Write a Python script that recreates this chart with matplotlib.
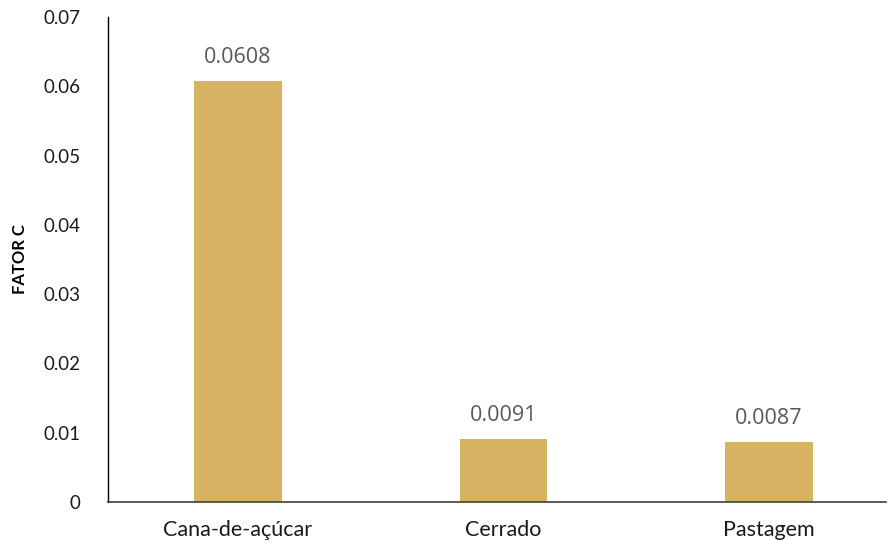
import matplotlib
matplotlib.use("Agg")
import matplotlib.pyplot as plt

categories = ["Cana-de-açúcar", "Cerrado", "Pastagem"]
values = [0.0608, 0.0091, 0.0087]
value_labels = ["0.0608", "0.0091", "0.0087"]
yticks = [0, 0.01, 0.02, 0.03, 0.04, 0.05, 0.06, 0.07]
ytick_labels = ["0", "0.01", "0.02", "0.03", "0.04", "0.05", "0.06", "0.07"]

plt.rcParams['font.family'] = ['Lato', 'DejaVu Sans']

fig = plt.figure(figsize=(8.9, 5.46), dpi=100)
ax = fig.add_axes([0.1213, 0.0806, 0.995 - 0.1213, 0.9689 - 0.0806])

x = list(range(len(categories)))
bars = ax.bar(x, values, width=0.33, color="#D7B263", zorder=2)
for xi, v, lab in zip(x, values, value_labels):
    ax.annotate(lab, (xi, v), xytext=(0, 9), textcoords="offset points",
                ha="center", va="bottom", fontsize=15.5, color="#595959",
                family=["Open Sans", "DejaVu Sans"])

ax.set_xlim(-0.49, 2.44)
ax.set_ylim(0, 0.07)
ax.set_yticks(yticks)
ax.set_yticklabels(ytick_labels, fontsize=13.5, color="#1a1a1a")
ax.set_xticks(x)
ax.set_xticklabels(categories, fontsize=15.5, color="#1a1a1a")
ax.tick_params(axis="y", length=0, pad=20)
ax.tick_params(axis="x", length=0, pad=13)
for s in ["top", "right"]:
    ax.spines[s].set_visible(False)
ax.spines["left"].set_color("#000000")
ax.spines["bottom"].set_color("#404040")
ax.spines["left"].set_linewidth(1.0)
ax.spines["bottom"].set_linewidth(1.2)
ax.set_ylabel("FATOR C", fontsize=12, fontweight="bold", labelpad=11)

fig.savefig("out.png", dpi=100)
